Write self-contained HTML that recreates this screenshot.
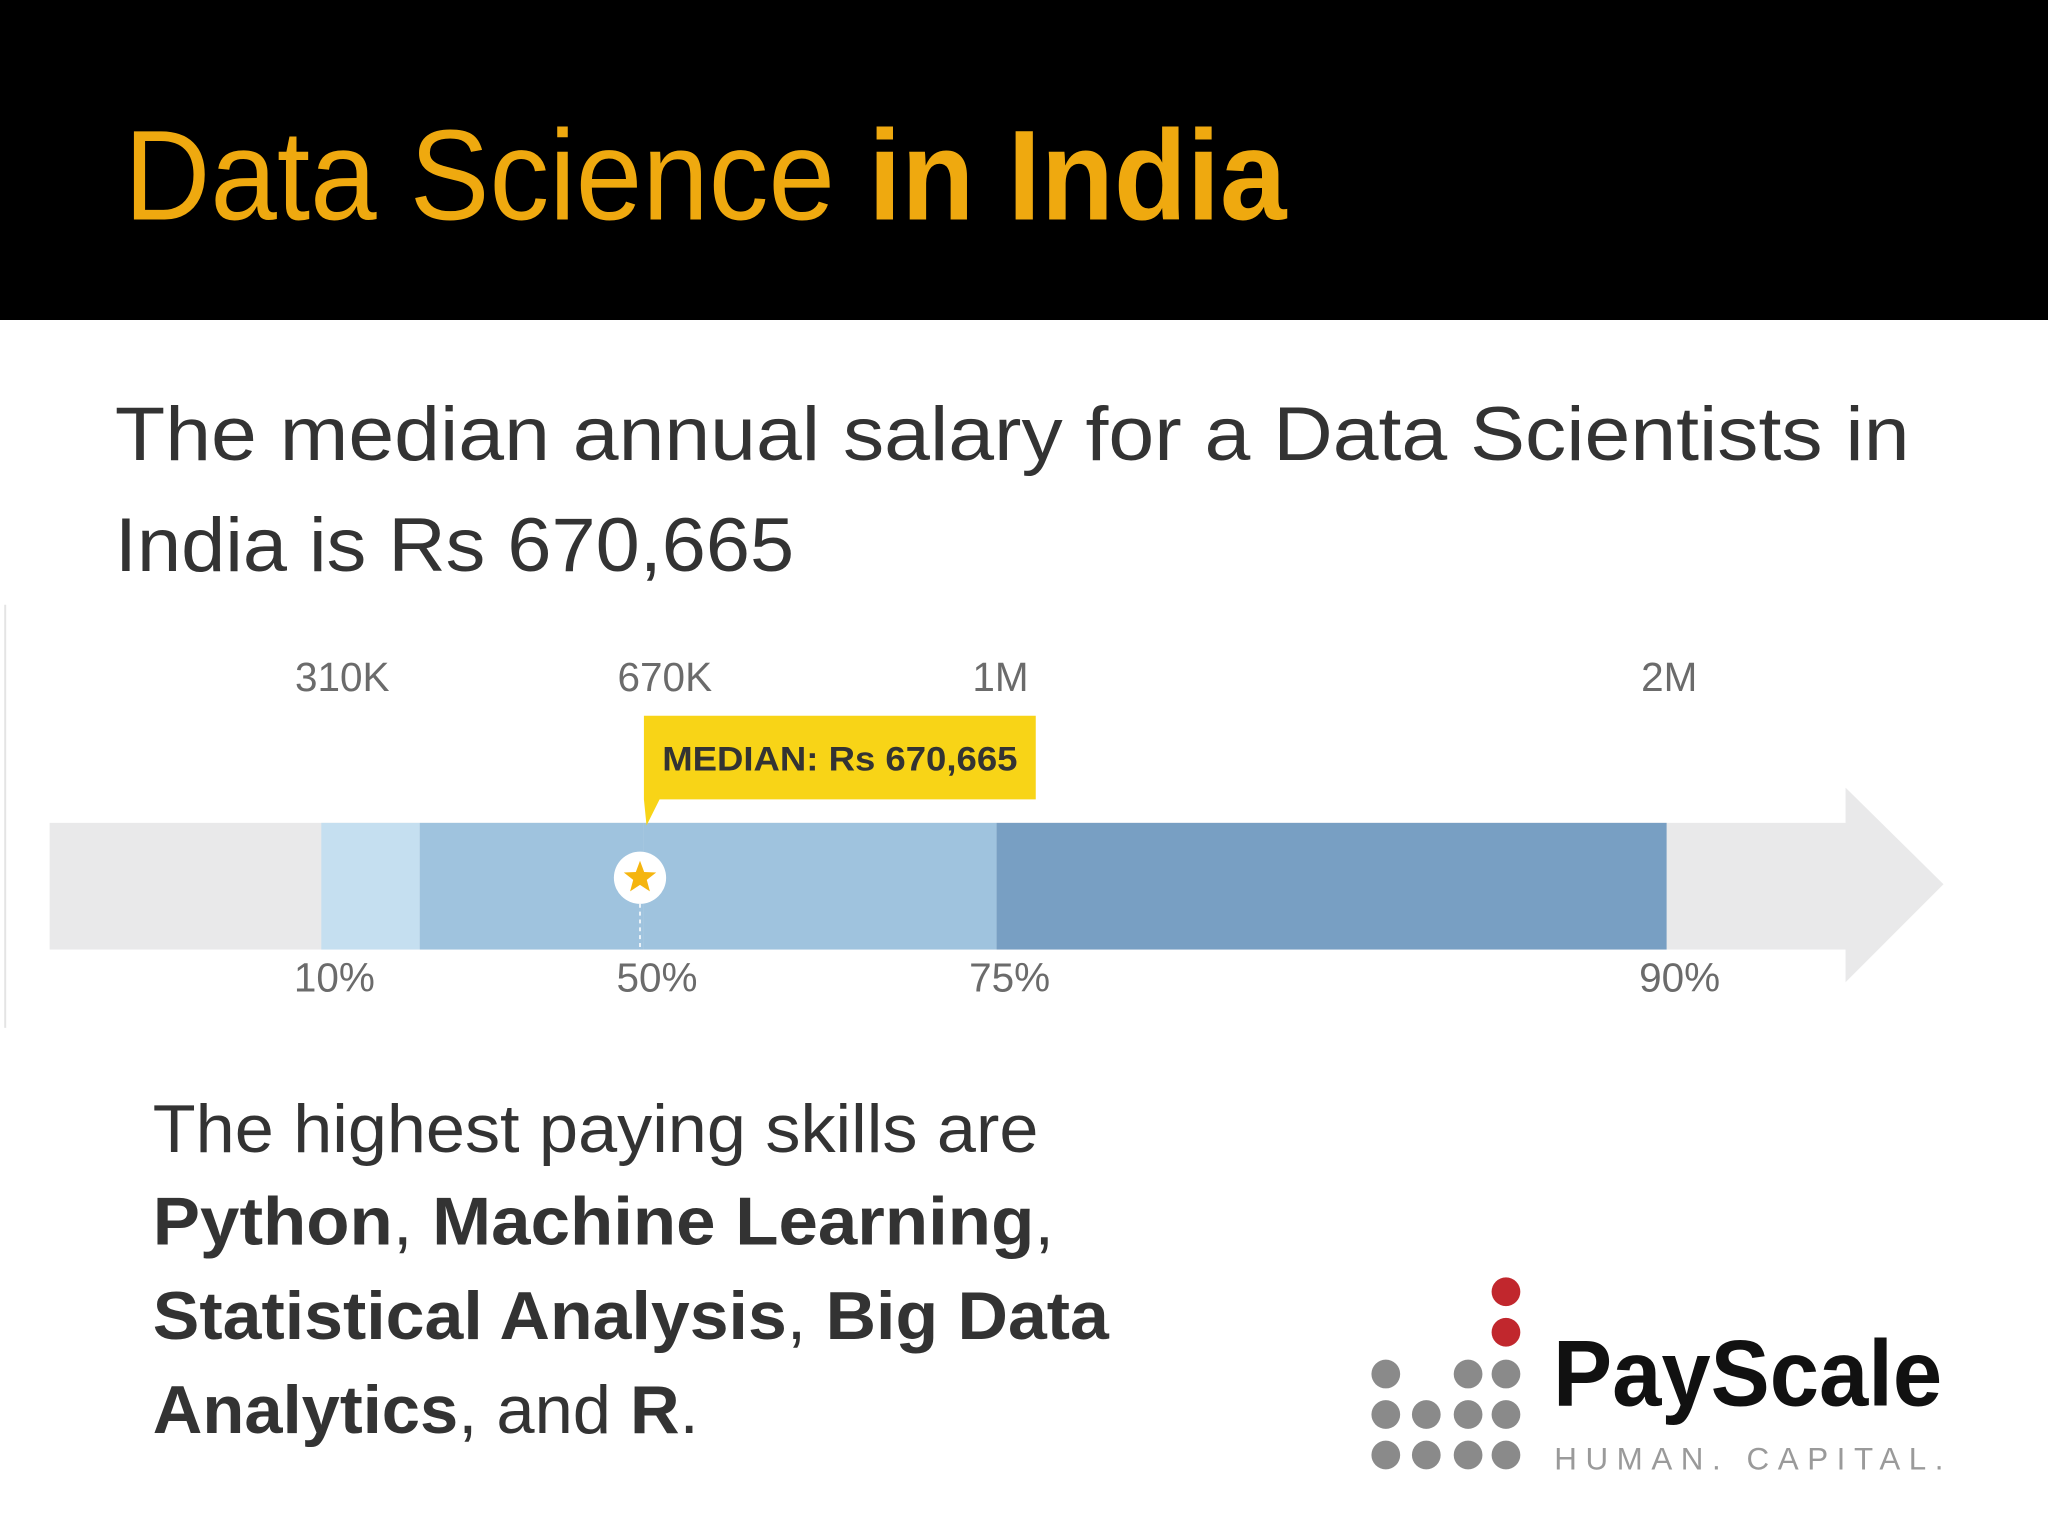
<!DOCTYPE html>
<html><head><meta charset="utf-8"><style>
html,body{margin:0;padding:0;background:#fff}
svg{display:block}
text{font-family:"Liberation Sans","DejaVu Sans",sans-serif}
</style></head><body>
<svg id="root" width="2048" height="1536" viewBox="0 0 1568 1176" xmlns="http://www.w3.org/2000/svg">
<rect x="0" y="0" width="1568" height="245" fill="#000"/>
<text x="95" y="168" font-size="98" fill="#efa90f" textLength="890" lengthAdjust="spacingAndGlyphs">Data Science <tspan font-weight="bold">in India</tspan></text>
<g fill="#333" font-size="58">
<text x="88" y="352" textLength="1374" lengthAdjust="spacingAndGlyphs">The median annual salary for a Data Scientists in</text>
<text x="88" y="437" textLength="520" lengthAdjust="spacingAndGlyphs">India is Rs 670,665</text>
</g>
<line x1="4" y1="463" x2="4" y2="787" stroke="#e4e4e4" stroke-width="1.5"/>
<g id="chart"></g>
<g fill="#333" font-size="52">
<text x="117" y="882" textLength="678" lengthAdjust="spacingAndGlyphs">The highest paying skills are</text>
<text x="117" y="953" textLength="690" lengthAdjust="spacingAndGlyphs"><tspan font-weight="bold">Python</tspan>, <tspan font-weight="bold">Machine Learning</tspan>,</text>
<text x="117" y="1025" textLength="732" lengthAdjust="spacingAndGlyphs"><tspan font-weight="bold">Statistical Analysis</tspan>, <tspan font-weight="bold">Big Data</tspan></text>
<text x="117" y="1097" textLength="418" lengthAdjust="spacingAndGlyphs"><tspan font-weight="bold">Analytics</tspan>, and <tspan font-weight="bold">R</tspan>.</text>
</g>
<g>
<g fill="#8a8a8a">
<circle cx="1061" cy="1052" r="11"/><circle cx="1124" cy="1052" r="11"/><circle cx="1153" cy="1052" r="11"/>
<circle cx="1061" cy="1083" r="11"/><circle cx="1092" cy="1083" r="11"/><circle cx="1124" cy="1083" r="11"/><circle cx="1153" cy="1083" r="11"/>
<circle cx="1061" cy="1114" r="11"/><circle cx="1092" cy="1114" r="11"/><circle cx="1124" cy="1114" r="11"/><circle cx="1153" cy="1114" r="11"/>
</g>
<circle cx="1153" cy="989" r="11" fill="#c1272d"/><circle cx="1153" cy="1020" r="11" fill="#c1272d"/>
<text x="1189" y="1076" font-size="72" font-weight="bold" fill="#111" textLength="298" lengthAdjust="spacingAndGlyphs">PayScale</text>
<text x="1190" y="1125" font-size="24" fill="#9a9a9a" textLength="298" lengthAdjust="spacing">HUMAN. CAPITAL.</text>
</g>
</svg>
<script>
const percentiles = ["10%", "25%", "50%", "75%", "90%"];
const salaryValues = [310000, 420000, 670665, 1000000, 2000000];
const tickLabels = ["310K", "670K", "1M", "2M"];
const tickValues = [310000, 670665, 1000000, 2000000];
const pctLabels = ["10%", "50%", "75%", "90%"];
const medianLabel = "MEDIAN: Rs 670,665";

const NS = "http://www.w3.org/2000/svg";
const chart = document.getElementById('chart');
const axisDomain = [310000, 670665, 1000000, 2000000];
const axisRange = [246, 493, 763, 1276];
const labelShift = [16, 16, 3, 2];
function xScale(v) {
  let i = 0;
  while (i < axisDomain.length - 2 && v > axisDomain[i + 1]) i++;
  const d0 = axisDomain[i], d1 = axisDomain[i + 1], r0 = axisRange[i], r1 = axisRange[i + 1];
  return r0 + (v - d0) / (d1 - d0) * (r1 - r0);
}
function mk(tag, attrs) {
  const el = document.createElementNS(NS, tag);
  for (const k in attrs) el.setAttribute(k, attrs[k]);
  chart.appendChild(el);
  return el;
}
const bandTop = 630, bandBot = 727;
let el = mk('rect', {x: 38, y: bandTop, width: 1377, height: bandBot - bandTop, fill: '#e9e9ea'});


el = mk('polygon', {points: '1413,603 1488,677 1413,752', fill: '#e9e9ea'});


const segColors = ['#c5dff0', '#9fc3de', '#9fc3de', '#789fc3'];
for (let i = 0; i < salaryValues.length - 1; i++) {
  const x0 = xScale(salaryValues[i]), x1 = xScale(salaryValues[i + 1]);
  el = mk('rect', {x: x0, y: bandTop, width: x1 - x0, height: bandBot - bandTop, fill: segColors[i]});
  
  
}
for (let i = 0; i < tickLabels.length; i++) {
  const x = xScale(tickValues[i]);
  el = mk('text', {x: x + labelShift[i], y: 529, 'font-size': 31, fill: '#6b6b6b', 'text-anchor': 'middle'});
  el.textContent = tickLabels[i];
  
  
  el = mk('text', {x: x + 10, y: 759, 'font-size': 31, fill: '#6b6b6b', 'text-anchor': 'middle'});
  el.textContent = pctLabels[i];
  
  
}
const mx = xScale(salaryValues[2]) - 3;
el = mk('line', {x1: mx, y1: 692, x2: mx, y2: bandBot, stroke: '#fff', 'stroke-width': 1.2, 'stroke-dasharray': '3,3'});


const cx0 = mx + 3;
el = mk('path', {d: `M${cx0} 548 H${cx0 + 300} V612 H${cx0 + 12} L${cx0 + 2} 632 L${cx0} 612 Z`, fill: '#f8d417'});


el = mk('text', {x: cx0 + 14, y: 590, 'font-size': 26, 'font-weight': 'bold', fill: '#333', textLength: 272, lengthAdjust: 'spacingAndGlyphs'});
el.textContent = medianLabel;


el = mk('circle', {cx: mx, cy: 672, r: 20, fill: '#fff'});


const pts = [];
for (let k = 0; k < 10; k++) {
  const r = k % 2 ? 5.5 : 13, a = -Math.PI / 2 + k * Math.PI / 5;
  pts.push((mx + r * Math.cos(a)).toFixed(1) + ',' + (672 + r * Math.sin(a)).toFixed(1));
}
el = mk('polygon', {points: pts.join(' '), fill: '#f5b50f'});


</script>
</body></html>
